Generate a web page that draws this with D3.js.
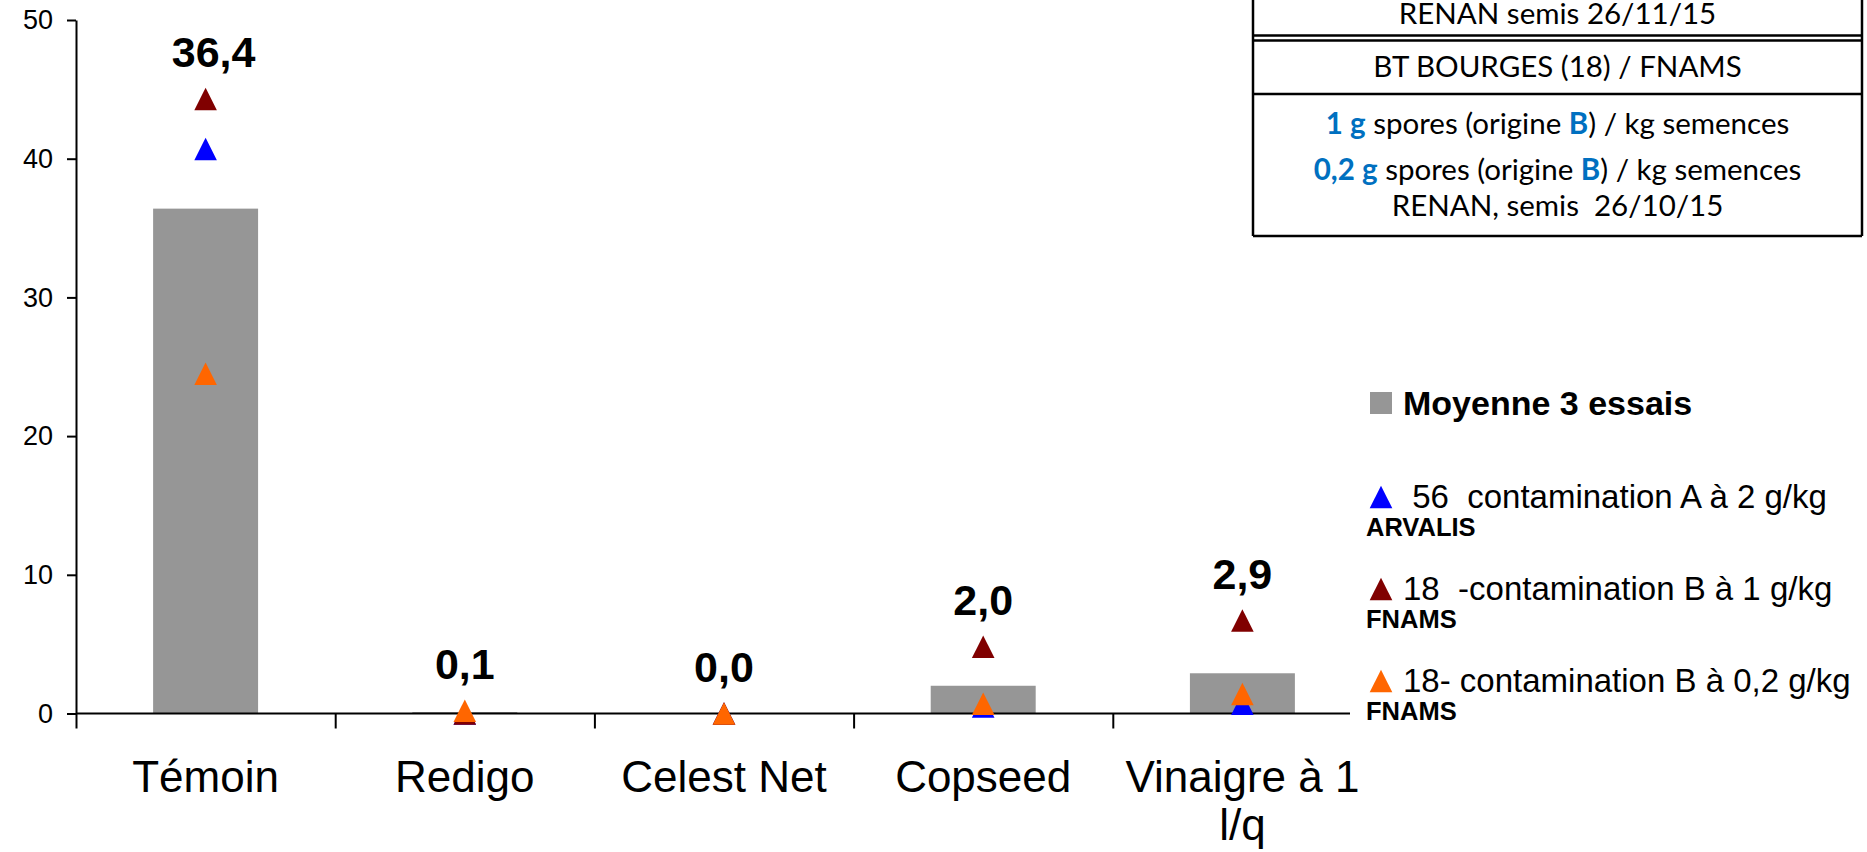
<!DOCTYPE html>
<html>
<head>
<meta charset="utf-8">
<script src="https://cdn.jsdelivr.net/npm/d3@7"></script>
<style>
  body { margin: 0; background: #fff; }
  svg { display: block; }
  text { white-space: pre; }
</style>
</head>
<body>
<div id="chart"></div>
<script>
// data
const categories = ["Témoin", "Redigo", "Celest Net", "Copseed", "Vinaigre à 1 l/q"];
const tickLines = [["Témoin"], ["Redigo"], ["Celest Net"], ["Copseed"], ["Vinaigre à 1", "l/q"]];
const moyenne = [36.4, 0.1, 0.0, 2.0, 2.9];
const arvalis56 = [40.7, 0.0, 0.0, 0.5, 0.7];
const fnams1g = [44.3, 0.0, 0.0, 4.8, 6.7];
const fnams02g = [24.5, 0.2, 0.0, 0.7, 1.4];
const yTicks = [0, 10, 20, 30, 40, 50];

const series = [
    { values: arvalis56, color: "#0000ff", label: " 56  contamination A à 2 g/kg", org: "ARVALIS" },
    { values: fnams1g, color: "#800000", label: "18  -contamination B à 1 g/kg", org: "FNAMS" },
    { values: fnams02g, color: "#ff6600", label: "18- contamination B à 0,2 g/kg", org: "FNAMS" }
];

const tableTop = "RENAN semis 26/11/15";
const tableSite = "BT BOURGES (18) / FNAMS";
const tableLines = [
    [["1 g", true], [" spores (origine ", false], ["B", true], [") / kg semences", false]],
    [["0,2 g", true], [" spores (origine ", false], ["B", true], [") / kg semences", false]],
    [["RENAN, semis  26/10/15", false]]
];

const width = 1867, height = 852;
const fr = d3.formatLocale({ decimal: ",", thousands: " ", grouping: [3], currency: ["", " €"] });
const fmt = fr.format(".1f");

const svg = d3.select("#chart").append("svg")
    .attr("width", width)
    .attr("height", height)
    .style("font-family", "'Liberation Sans', Arial, sans-serif");

const x = d3.scaleBand().domain(categories).range([76, 1372]);
const xb = d3.scaleLinear().domain([0, categories.length]).range([76, 1372]);
const y = d3.scaleLinear().domain([0, 50]).range([713.5, 20]);

// bars
const barW = x.bandwidth() * 0.405;
svg.append("g").selectAll("rect")
    .data(categories)
    .join("rect")
    .attr("x", d => x(d) + (x.bandwidth() - barW) / 2)
    .attr("y", (d, i) => y(moyenne[i]))
    .attr("width", barW)
    .attr("height", (d, i) => y(0) - y(moyenne[i]))
    .attr("fill", "#969696");

// y axis
let yAxis = d3.axisLeft(y).tickValues(yTicks).tickSize(9).tickSizeOuter(0).tickPadding(14);
let gy = svg.append("g")
    .attr("transform", "translate(76,0)")
    .call(yAxis);
gy.selectAll("path, line").attr("stroke", "#000").attr("stroke-width", 2);
gy.selectAll("text").attr("font-size", 27).attr("fill", "#000").attr("font-family", "'Liberation Sans', Arial, sans-serif");

// x axis: boundary ticks + line
let xAxis = d3.axisBottom(xb).tickValues(d3.range(0, categories.length)).tickSize(15).tickFormat("");
let gx = svg.append("g")
    .attr("transform", `translate(0,${y(0)})`)
    .call(xAxis);
gx.select(".domain").remove();
gx.selectAll("line").attr("stroke", "#000").attr("stroke-width", 2);
svg.append("line")
    .attr("x1", xb(0)).attr("x2", 1350)
    .attr("y1", y(0)).attr("y2", y(0))
    .attr("stroke", "#000").attr("stroke-width", 2);

// category labels
const lab = svg.append("g").selectAll("text")
    .data(tickLines)
    .join("text")
    .attr("text-anchor", "middle")
    .attr("font-size", 44)
    .attr("fill", "#000");
lab.selectAll("tspan")
    .data((d, i) => d.map(t => ({ t, i })))
    .join("tspan")
    .attr("x", d => x(categories[d.i]) + x.bandwidth() / 2)
    .attr("y", (d, j) => 792 + j * 48)
    .text(d => d.t);

// triangles
const tri = "M0,-11.3L11.3,11.2L-11.3,11.2Z";
series.forEach(s => {
    svg.append("g").selectAll("path")
        .data(s.values)
        .join("path")
        .attr("d", tri)
        .attr("transform", (d, i) => `translate(${x(categories[i]) + x.bandwidth() / 2},${y(d)})`)
        .attr("fill", s.color);
});

// value labels
svg.append("g").selectAll("text")
    .data(moyenne)
    .join("text")
    .attr("x", (d, i) => x(categories[i]) + x.bandwidth() / 2 + (i === 0 ? 8 : 0))
    .attr("y", (d, i) => y(d3.max([d, arvalis56[i], fnams1g[i], fnams02g[i]])) - 32)
    .attr("text-anchor", "middle")
    .attr("font-size", 43)
    .attr("font-weight", "bold")
    .attr("fill", "#000")
    .text(d => fmt(d));

// legend
const leg = svg.append("g");
leg.append("rect").attr("x", 1370).attr("y", 392).attr("width", 22).attr("height", 22).attr("fill", "#969696");
leg.append("text").attr("x", 1403).attr("y", 415)
    .attr("font-size", 34).attr("font-weight", "bold").text("Moyenne 3 essais");
series.forEach((s, k) => {
    const cy = 497 + k * 92;
    leg.append("path").attr("d", tri).attr("transform", `translate(1381,${cy})`).attr("fill", s.color);
    leg.append("text").attr("x", 1403).attr("y", cy + 11).attr("font-size", 33).text(s.label);
    leg.append("text").attr("x", 1366).attr("y", cy + 39)
        .attr("font-size", 25.5).attr("font-weight", "bold").text(s.org);
});

// info table (top right)
const tb = svg.append("g")
    .style("font-family", "Lato, 'Open Sans', sans-serif")
    .attr("font-size", 29.5);
const tl = 1253, tr = 1862, tc = (tl + tr) / 2;
[[tl, 0, tl, 236], [tr, 0, tr, 236], [tl, 35.5, tr, 35.5], [tl, 40.5, tr, 40.5], [tl, 94, tr, 94], [tl, 236, tr, 236]]
    .forEach(l => tb.append("line")
        .attr("x1", l[0]).attr("y1", l[1]).attr("x2", l[2]).attr("y2", l[3])
        .attr("stroke", "#000").attr("stroke-width", 2.5));
tb.append("text").attr("x", tc).attr("y", 24).attr("text-anchor", "middle").text(tableTop);
tb.append("text").attr("x", tc).attr("y", 77).attr("text-anchor", "middle").text(tableSite);
const lineY = [134, 180, 216];
tableLines.forEach((parts, k) => {
    const t = tb.append("text").attr("x", tc).attr("y", lineY[k]).attr("text-anchor", "middle");
    parts.forEach(p => t.append("tspan")
        .text(p[0])
        .attr("font-weight", p[1] ? "bold" : null)
        .attr("fill", p[1] ? "#0070c0" : "#000"));
});
</script>
</body>
</html>
